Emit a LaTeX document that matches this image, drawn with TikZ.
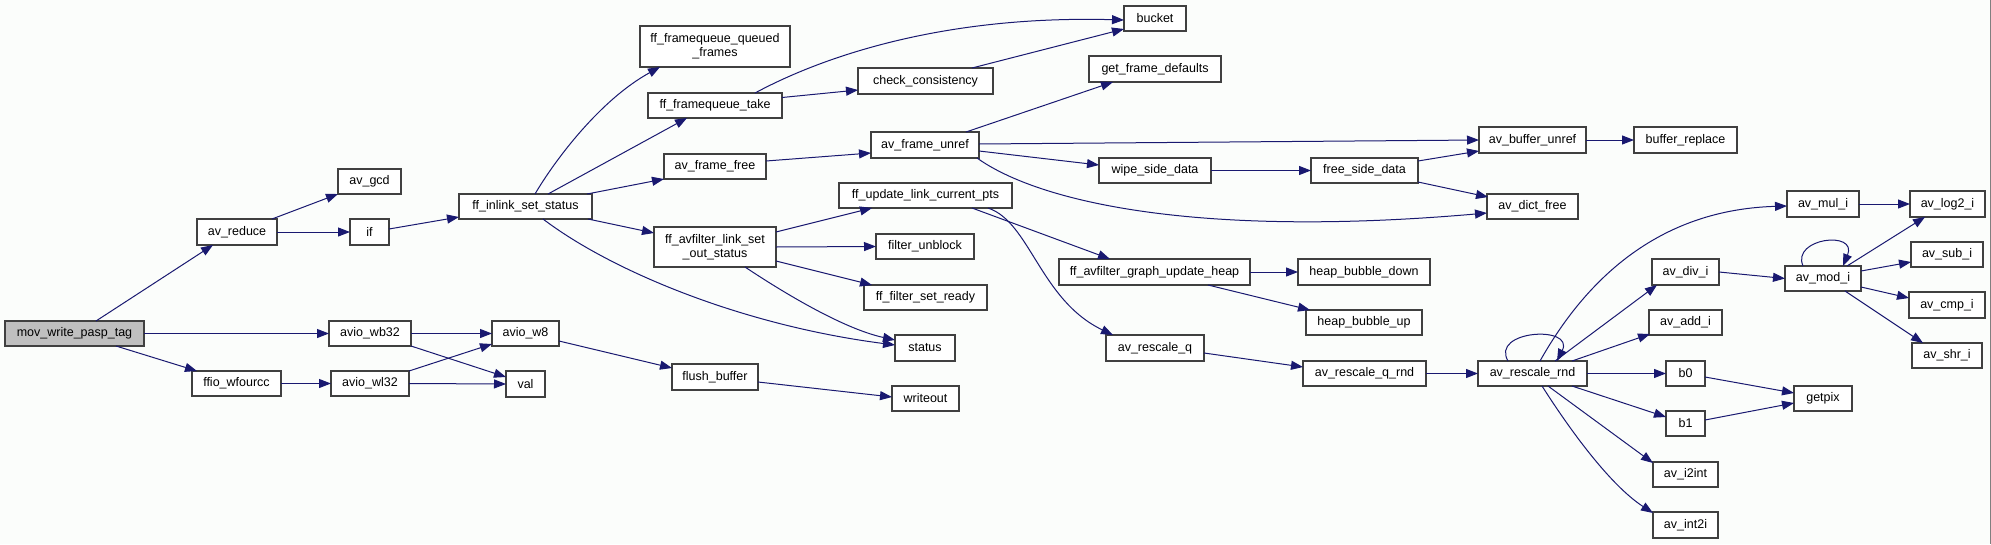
\documentclass[tikz,border=0pt]{standalone}
\usepackage{fontspec}
\setmainfont{Liberation Sans}
\usetikzlibrary{arrows.meta,calc}
\definecolor{edgecol}{RGB}{25,25,112}
\definecolor{bordercol}{RGB}{64,64,64}
\definecolor{bgcol}{RGB}{251,253,251}
\definecolor{rootfill}{RGB}{191,191,191}
\tikzset{
 fnbox/.style={draw=bordercol, line width=1.4pt, fill=white, inner sep=0pt, outer sep=0pt,
   font=\fontsize{12.5}{13.7}\selectfont, align=center, text=black},
 rootbox/.style={fnbox, fill=rootfill},
 conn/.style={draw=edgecol, line width=1pt, -{Triangle[length=12pt,width=9pt]}},
}
\newcommand{\fnode}[7][fnbox]{\node[#1, minimum width={(#5-#3)*1pt}, minimum height={(#6-#4)*1pt}] (#2) at ({(#3+#5)/2},{(#4+#6)/2}) {#7};}
\begin{document}
\begin{tikzpicture}[x=1pt,y=-1pt]
\fill[bgcol] (0,0) rectangle (1991,544);
\useasboundingbox (0,0) rectangle (1991,544);
\draw[gray, line width=1pt] (1990.5,0) -- (1990.5,544);
% nodes
\fnode[rootbox]{mwpt}{5}{321}{144}{346}{mov\_write\_pasp\_tag}
\fnode{avreduce}{197}{219}{277}{245}{av\_reduce}
\fnode{avgcd}{338}{169}{401}{194}{av\_gcd}
\fnode{iff}{350}{219}{389}{245}{if}
\fnode{wbtt}{329}{321}{411}{346}{avio\_wb32}
\fnode{wfourcc}{192}{371}{281}{396}{ffio\_wfourcc}
\fnode{wltt}{331}{371}{409}{396}{avio\_wl32}
\fnode{inlink}{459}{194}{592}{219}{ff\_inlink\_set\_status}
\fnode{fqqf}{640}{26}{790}{67}{ff\_framequeue\_queued\\\_frames}
\fnode{fqtake}{648}{93}{782}{118}{ff\_framequeue\_take}
\fnode{framefree}{664}{154}{766}{179}{av\_frame\_free}
\fnode{setout}{654}{227}{776}{267}{ff\_avfilter\_link\_set\\\_out\_status}
\fnode{weight}{492}{321}{559}{346}{avio\_w8}
\fnode{val}{506}{371}{545}{397}{val}
\fnode{flush}{672}{364}{758}{390}{flush\_buffer}
\fnode{setready}{864}{285}{987}{310}{ff\_filter\_set\_ready}
\fnode{status}{895}{335}{955}{361}{status}
\fnode{writeout}{892}{386}{959}{411}{writeout}
\fnode{bucket}{1124}{6}{1186}{31}{bucket}
\fnode{checkc}{858}{68}{993}{94}{check\_consistency}
\fnode{getfd}{1089}{56}{1221}{82}{get\_frame\_defaults}
\fnode{frameunref}{871}{132}{979}{158}{av\_frame\_unref}
\fnode{wipe}{1099}{158}{1211}{183}{wipe\_side\_data}
\fnode{updpts}{839}{183}{1012}{208}{ff\_update\_link\_current\_pts}
\fnode{unblock}{876}{234}{974}{259}{filter\_unblock}
\fnode{updheap}{1059}{259}{1250}{285}{ff\_avfilter\_graph\_update\_heap}
\fnode{bufunref}{1479}{127}{1586}{153}{av\_buffer\_unref}
\fnode{freeside}{1311}{158}{1418}{183}{free\_side\_data}
\fnode{dictfree}{1487}{194}{1578}{219}{av\_dict\_free}
\fnode{bdown}{1298}{259}{1430}{285}{heap\_bubble\_down}
\fnode{bufrep}{1634}{127}{1737}{153}{buffer\_replace}
\fnode{bup}{1306}{310}{1422}{335}{heap\_bubble\_up}
\fnode{rescq}{1106}{335}{1204}{361}{av\_rescale\_q}
\fnode{rescqrnd}{1303}{361}{1426}{386}{av\_rescale\_q\_rnd}
\fnode{rescrnd}{1478}{361}{1587}{386}{av\_rescale\_rnd}
\fnode{mul}{1787}{191}{1859}{217}{av\_mul\_i}
\fnode{logtwo}{1910}{191}{1985}{217}{av\_log2\_i}
\fnode{div}{1652}{259}{1719}{285}{av\_div\_i}
\fnode{mod}{1785}{266}{1861}{291}{av\_mod\_i}
\fnode{sub}{1911}{242}{1983}{267}{av\_sub\_i}
\fnode{cmp}{1909}{292}{1985}{318}{av\_cmp\_i}
\fnode{shr}{1912}{343}{1982}{368}{av\_shr\_i}
\fnode{add}{1649}{310}{1722}{335}{av\_add\_i}
\fnode{bzero}{1666}{361}{1705}{386}{b0}
\fnode{getpix}{1794}{386}{1852}{411}{getpix}
\fnode{bone}{1666}{411}{1705}{436}{b1}
\fnode{itoint}{1653}{462}{1718}{487}{av\_i2int}
\fnode{inttoi}{1653}{512}{1718}{538}{av\_int2i}
% connectors
\draw[conn] ($(mwpt.north west)+(91,0)$) -- ($(avreduce.south west)+(16,0)$);
\draw[conn] (mwpt.east) -- (wbtt.west);
\draw[conn] ($(mwpt.south west)+(111,0)$) -- ($(wfourcc.north west)+(5,0)$);
\draw[conn] ($(avreduce.north east)+(-5,0)$) -- (avgcd.south west);
\draw[conn] (avreduce.east) -- (iff.west);
\draw[conn] ($(iff.east)+(0,-3)$) -- ($(inlink.south west)+(0,-2)$);
\draw[conn] ($(inlink.north west)+(76,0)$) .. controls +(20,-34) and +(-60,33) .. ($(fqqf.south west)+(20,0)$);
\draw[conn] ($(inlink.north west)+(89,0)$) -- ($(fqtake.south west)+(39,0)$);
\draw[conn] ($(inlink.north east)+(-5,0)$) -- (framefree.south west);
\draw[conn] ($(inlink.south east)+(-4,0)$) -- ($(setout.north west)+(0,6)$);
\draw[conn] ($(inlink.south west)+(84,0)$) .. controls +(67,51) and +(-155,-20) .. ($(status.west)+(0,-3)$);
\draw[conn] ($(fqtake.north west)+(107,0)$) .. controls +(65,-35) and +(-184,-5) .. ($(bucket.west)+(0,1.5)$);
\draw[conn] ($(fqtake.east)+(0,-8)$) -- ($(checkc.west)+(0,9)$);
\draw[conn] ($(checkc.north east)+(-21,0)$) -- ($(bucket.south west)+(0,-2)$);
\draw[conn] ($(framefree.east)+(0,-5.5)$) -- ($(frameunref.south west)+(0,-5)$);
\draw[conn] ($(frameunref.north east)+(-13,0)$) -- ($(getfd.south west)+(24,0)$);
\draw[conn] ($(frameunref.east)+(0,-1)$) -- (bufunref.west);
\draw[conn] ($(frameunref.south east)+(0,-7)$) -- ($(wipe.west)+(0,-5.5)$);
\draw[conn] ($(frameunref.south east)+(-2,0)$) .. controls +(63,45) and +(-287,25) .. ($(dictfree.west)+(0,6.5)$);
\draw[conn] (wipe.east) -- (freeside.west);
\draw[conn] ($(freeside.north east)+(0,3)$) -- ($(bufunref.south west)+(0,-2)$);
\draw[conn] ($(freeside.south east)+(0,-1)$) -- ($(dictfree.north west)+(1,3)$);
\draw[conn] (bufunref.east) -- (bufrep.west);
\draw[conn] ($(setout.north east)+(0,5)$) -- ($(updpts.south west)+(33,0)$);
\draw[conn] (setout.east) -- (unblock.west);
\draw[conn] ($(setout.south east)+(0,-6)$) -- ($(setready.north west)+(8,0)$);
\draw[conn] ($(setout.south west)+(91,0)$) .. controls +(30,20) and +(-55,-12) .. ($(status.west)+(0,-8)$);
\draw[conn] ($(updpts.south west)+(133,0)$) -- ($(updheap.north west)+(51,0)$);
\draw[conn] ($(updpts.south west)+(149,0)$) .. controls +(42,14) and +(-73,-35) .. ($(rescq.north west)+(7,0)$);
\draw[conn] (updheap.east) -- (bdown.west);
\draw[conn] ($(updheap.south east)+(-42,0)$) -- ($(bup.north west)+(4,0)$);
\draw[conn] ($(rescq.east)+(0,5)$) -- ($(rescqrnd.west)+(0,-6.5)$);
\draw[conn] (rescqrnd.east) -- (rescrnd.west);
\draw[conn] ($(rescrnd.north west)+(30,0)$) .. controls +(-18,-31) and +(18,-36) .. ($(rescrnd.north west)+(79,0)$);
\draw[conn] ($(rescrnd.north west)+(62,0)$) .. controls +(40,-71) and +(-137,4) .. ($(mul.west)+(0,2)$);
\draw[conn] ($(rescrnd.north west)+(77,0)$) -- ($(div.south west)+(5,0)$);
\draw[conn] ($(rescrnd.north east)+(-15,0)$) -- ($(add.south west)+(1,-1)$);
\draw[conn] (rescrnd.east) -- (bzero.west);
\draw[conn] ($(rescrnd.south east)+(-15,0)$) -- ($(bone.west)+(0,-6.5)$);
\draw[conn] ($(rescrnd.south west)+(70,0)$) -- ($(itoint.north west)+(0,1)$);
\draw[conn] ($(rescrnd.south west)+(64,0)$) .. controls +(28,44) and +(-43,-28) .. ($(inttoi.north west)+(0,1)$);
\draw[conn] (mul.east) -- (logtwo.west);
\draw[conn] (div.east) -- (mod.west);
\draw[conn] ($(mod.north west)+(18,0)$) .. controls +(-12,-28) and +(15,-36) .. ($(mod.north west)+(58,0)$);
\draw[conn] ($(mod.north east)+(-14,0)$) -- ($(logtwo.south west)+(15,0)$);
\draw[conn] ($(mod.east)+(0,-7.5)$) -- ($(sub.south west)+(0,-5)$);
\draw[conn] ($(mod.east)+(0,8.5)$) -- ($(cmp.west)+(0,-7)$);
\draw[conn] ($(mod.south west)+(60,0)$) -- ($(shr.north west)+(11,0)$);
\draw[conn] ($(bzero.east)+(0,3.5)$) -- ($(getpix.west)+(0,-5.5)$);
\draw[conn] ($(bone.east)+(0,-3.5)$) -- ($(getpix.west)+(0,4.5)$);
\draw[conn] (wbtt.east) -- (weight.west);
\draw[conn] (wbtt.south east) -- ($(val.west)+(0,-7)$);
\draw[conn] (wltt.north east) -- ($(weight.south west)+(0,-2)$);
\draw[conn] (wltt.east) -- (val.west);
\draw[conn] (wfourcc.east) -- (wltt.west);
\draw[conn] ($(weight.east)+(0,7.5)$) -- ($(flush.west)+(0,-9)$);
\draw[conn] ($(flush.east)+(0,5)$) -- ($(writeout.west)+(0,-1.5)$);
\end{tikzpicture}
\end{document}
